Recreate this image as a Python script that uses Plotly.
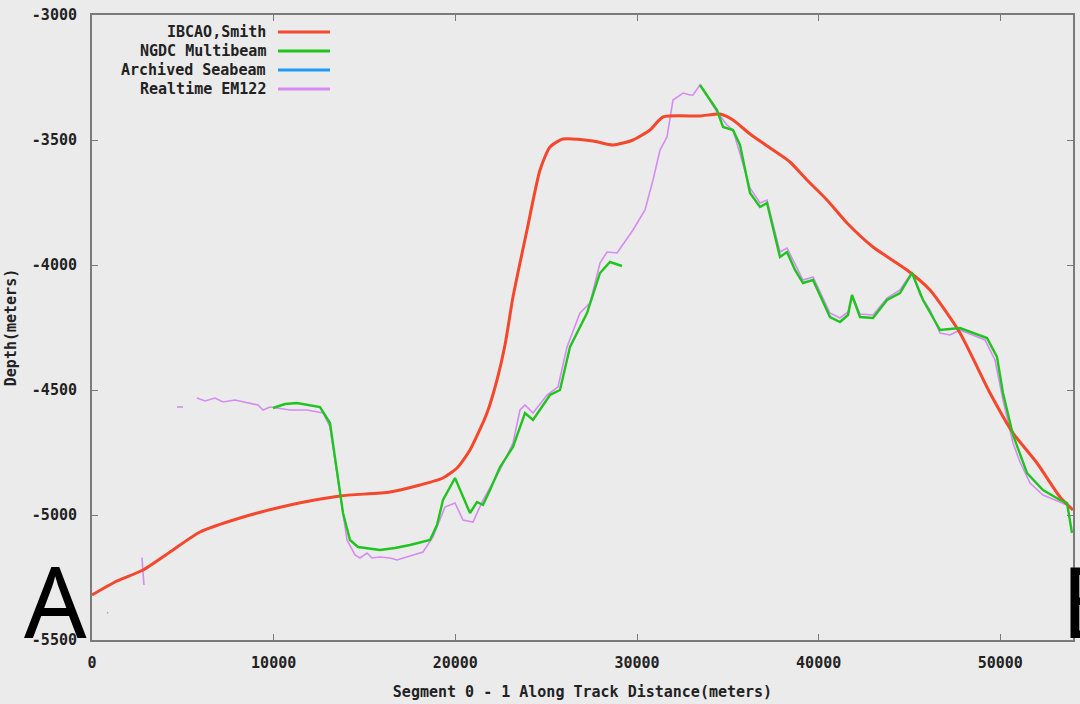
import plotly.graph_objects as go

# ---- data (meters) ----
ibcao_x = [0, 1266, 2807, 4294, 5945, 8147, 10899, 13651, 16404, 18055, 19321, 20092, 20807,
           21743, 22294, 22734, 23174, 23945, 24661, 25211, 25927, 27578, 28679, 29780, 30716,
           31431, 33468, 34569, 35284, 36220, 37486, 38422, 39358, 40459, 41560, 42991, 44862,
           46129, 47780, 49431, 50697, 52018, 53284, 54000]
ibcao_y = [-5320, -5268, -5220, -5148, -5068, -5012, -4960, -4924, -4908, -4880, -4852, -4812, -4740,
           -4592, -4460, -4320, -4128, -3860, -3620, -3528, -3496, -3504, -3520, -3500, -3460,
           -3408, -3404, -3396, -3420, -3476, -3540, -3588, -3660, -3740, -3832, -3928, -4020,
           -4100, -4272, -4512, -4672, -4792, -4928, -4980]

ngdc_x = [9963, 10624, 11284, 12000, 12550, 13101, 13486, 13817, 14202, 14642, 15853, 16679, 17505,
          18606, 18991, 19321, 19982, 20367, 20807, 21192, 21523, 21908, 22459, 23174, 23835, 24275,
          25211, 25761, 26312, 27248, 27963, 28514, 29174, None,
          33468, 34018, 34404, 34734, 35284, 35669, 36220, 36770, 37156, 37871, 38257, 38697, 39137,
          39688, 40624, 41174, 41615, 41835, 42275, 42991, 43762, 44477, 45138, 45743, 46294, 46679,
          47780, 49266, 49816, 50146, 50697, 51468, 52348, 53284, 53670, 53945]
ngdc_y = [-4572, -4556, -4552, -4560, -4568, -4632, -4832, -4992, -5100, -5128, -5140, -5132, -5120,
          -5100, -5040, -4940, -4852, -4920, -4992, -4948, -4960, -4900, -4808, -4728, -4592, -4620,
          -4520, -4500, -4328, -4192, -4032, -3988, -4004, None,
          -3280, -3340, -3380, -3448, -3460, -3520, -3712, -3768, -3752, -3968, -3948, -4020, -4072,
          -4060, -4208, -4228, -4200, -4120, -4208, -4212, -4140, -4112, -4032, -4140, -4208, -4260,
          -4252, -4292, -4368, -4512, -4680, -4832, -4900, -4940, -4952, -5072]

seabeam_x = [None]
seabeam_y = [None]

em122_x = [826, 900, None, 2750, 2807, 2860, None, 4679, 5009, None,
           5780, 6220, 6771, 7211, 7872, 8697, 9138, 9413, 9798, 10183, 10899, 11835, 12440, 12716,
           13101, 13541, 14037, 14477, 14752, 15138, 15413, 15853, 16404, 16789, 17505, 18220, 18771,
           19431, 19982, 20422, 20973, 21523, 22459, 23174, 23560, 23835, 24275, 25046, 25651, 26147,
           26862, 27413, 27963, 28349, 28899, 29780, 30441, 30881, 31267, 31652, 31982, 32533, 32918,
           33083, 33468, 34404, 34954, 35284, 36220, 36770, 37156, 37871, 38257, 39137, 39688, 40624,
           41174, 41615, 41835, 42275, 42991, 43762, 44477, 45138, 45578, 46129, 46679, 47229, 47780,
           49156, 49706, 50146, 50697, 51082, 51633, 52348, 53009, 53670]
em122_y = [-5390, -5392, None, -5170, -5230, -5280, None, -4568, -4568, None,
           -4532, -4544, -4532, -4548, -4540, -4552, -4560, -4580, -4568, -4572, -4580, -4580, -4588, -4592,
           -4648, -4860, -5100, -5160, -5172, -5152, -5172, -5168, -5172, -5180, -5164, -5148, -5088,
           -4968, -4952, -5020, -5028, -4940, -4820, -4712, -4580, -4560, -4592, -4520, -4488, -4328,
           -4192, -4152, -3992, -3948, -3952, -3860, -3780, -3660, -3540, -3488, -3340, -3312, -3320,
           -3320, -3280, -3388, -3440, -3460, -3692, -3752, -3740, -3948, -3932, -4060, -4048, -4192,
           -4212, -4188, -4120, -4196, -4200, -4132, -4100, -4028, -4120, -4180, -4272, -4280, -4260,
           -4300, -4380, -4540, -4712, -4788, -4872, -4920, -4940, -4960]

series_names = ["IBCAO,Smith", "NGDC Multibeam", "Archived Seabeam", "Realtime EM122"]
series_colors = ["#f4472c", "#1fc41f", "#1e9cf5", "#d58cf2"]

x_ticks = [0, 10000, 20000, 30000, 40000, 50000]
y_ticks = [-3000, -3500, -4000, -4500, -5000, -5500]

FONT = "DejaVu Sans Mono"
BG = "#ebebeb"
TXT = dict(family=FONT, size=15, color="#222222", weight="bold")

fig = go.Figure()
fig.add_trace(go.Scatter(x=em122_x, y=em122_y, mode="lines", name=series_names[3],
                         line=dict(color=series_colors[3], width=1.6), showlegend=False))
fig.add_trace(go.Scatter(x=ibcao_x, y=ibcao_y, mode="lines", name=series_names[0],
                         line=dict(color=series_colors[0], width=3, shape="spline", smoothing=0.6),
                         showlegend=False))
fig.add_trace(go.Scatter(x=ngdc_x, y=ngdc_y, mode="lines", name=series_names[1],
                         line=dict(color=series_colors[1], width=2.4), showlegend=False))
fig.add_trace(go.Scatter(x=seabeam_x, y=seabeam_y, mode="lines", name=series_names[2],
                         line=dict(color=series_colors[2], width=2), showlegend=False))

# gnuplot-style legend: right-aligned text with line sample to the right
row_y = [0.9728, 0.9424, 0.912, 0.8816]
for name, color, yy in zip(series_names, series_colors, row_y):
    fig.add_annotation(x=0.1794, y=yy, xref="paper", yref="paper", text=name, showarrow=False,
                       xanchor="right", yanchor="middle", font=TXT)
    fig.add_shape(type="line", xref="paper", yref="paper", x0=0.1896, x1=0.2426, y0=yy, y1=yy,
                  line=dict(color=color, width=3))

# hand-drawn endpoint letters
fig.add_annotation(x=-0.037, y=0.064, xref="paper", yref="paper", text="A", showarrow=False,
                   xanchor="center", yanchor="middle",
                   font=dict(family="Noto Sans", size=98, color="black"))
fig.add_annotation(x=0.9855, y=0.064, xref="paper", yref="paper", text="B", showarrow=False,
                   xanchor="left", yanchor="middle",
                   font=dict(family="Noto Sans", size=98, color="black"))

axis_common = dict(showgrid=False, zeroline=False, showline=True, linecolor="#7a7a7a",
                   linewidth=2, mirror="ticks", ticks="inside", ticklen=6, tickcolor="#7a7a7a",
                   tickwidth=1, tickfont=TXT, automargin=False)

fig.update_xaxes(range=[0, 54000], tickvals=x_ticks, ticktext=[str(v) for v in x_ticks],
                 title=dict(text="Segment 0 - 1 Along Track Distance(meters)", font=TXT, standoff=15),
                 ticklabelstandoff=8, **axis_common)
fig.update_yaxes(range=[-5500, -3000], tickvals=y_ticks, ticktext=[str(v) for v in y_ticks],
                 title=dict(text="Depth(meters)", font=TXT, standoff=12),
                 ticklabelstandoff=10, **axis_common)

fig.update_layout(width=1080, height=704, paper_bgcolor=BG, plot_bgcolor=BG,
                  margin=dict(l=92, r=7, t=15, b=64, autoexpand=False), showlegend=False)

fig.write_html("out.html", config={"displayModeBar": False},
               post_script="document.body.style.margin='0';document.body.style.background='#ebebeb';")
